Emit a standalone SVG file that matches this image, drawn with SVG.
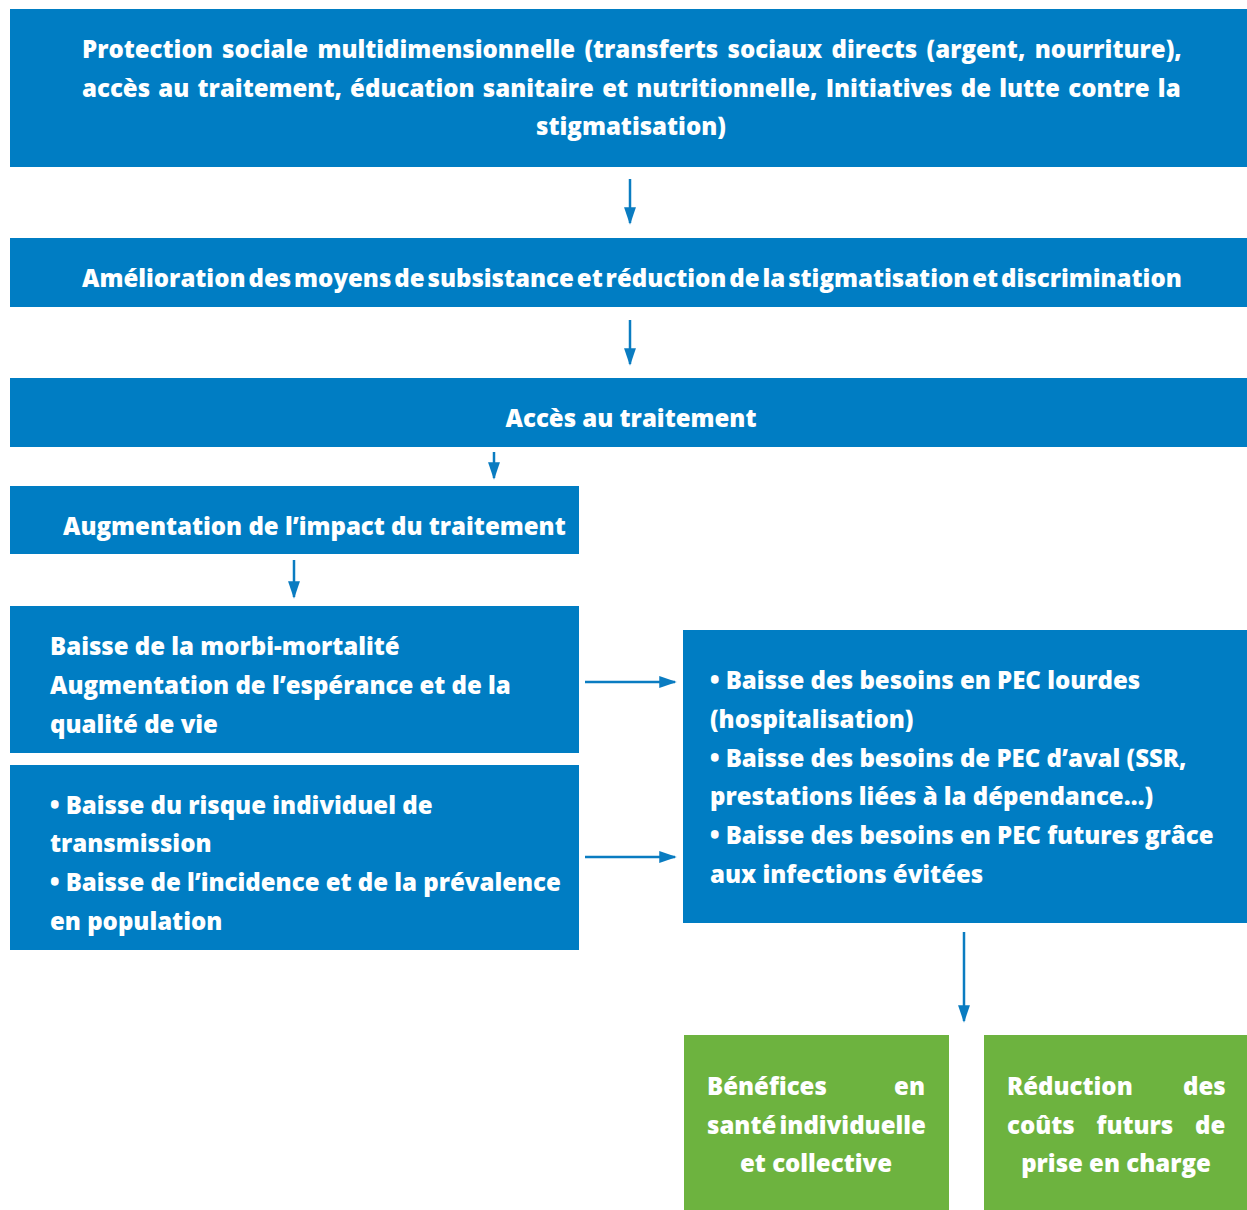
<svg xmlns="http://www.w3.org/2000/svg" width="1247" height="1210" viewBox="0 0 1247 1210">
  <defs>
    <style>
      .box { fill: #007DC3; }
      .green { fill: #6DB33F; }
      .t { font-family: "Open Sans", "Liberation Sans", sans-serif; font-weight: 800; font-size: 24px; fill: #ffffff; }
      .mid { text-anchor: middle; }
      .conn { stroke: #0A7CC1; stroke-width: 2.5; fill: none; marker-end: url(#ah); }
    </style>
    <marker id="ah" viewBox="0 0 10 10" refX="9" refY="5" markerWidth="7" markerHeight="7" markerUnits="strokeWidth" orient="auto">
      <path d="M0,1.6 L10,5 L0,8.4 z" fill="#0A7CC1"/>
    </marker>
  </defs>
  <rect width="1247" height="1210" fill="#ffffff"/>

  <g id="n1">
    <rect class="box" x="10" y="9" width="1237" height="158"/>
    <text class="t" x="82" y="58" word-spacing="3.1">Protection sociale multidimensionnelle (transferts sociaux directs (argent, nourriture),</text>
    <text class="t" x="82" y="97" word-spacing="2">accès au traitement, éducation sanitaire et nutritionnelle, Initiatives de lutte contre la</text>
    <text class="t mid" x="631" y="135">stigmatisation)</text>
  </g>
  <g id="n2">
    <rect class="box" x="10" y="238" width="1237" height="69"/>
    <text class="t" x="82" y="287" word-spacing="-3.3">Amélioration des moyens de subsistance et réduction de la stigmatisation et discrimination</text>
  </g>
  <g id="n3">
    <rect class="box" x="10" y="378" width="1237" height="69"/>
    <text class="t mid" x="631" y="427">Accès au traitement</text>
  </g>
  <g id="n4">
    <rect class="box" x="10" y="486" width="569" height="68"/>
    <text class="t" x="63" y="535">Augmentation de l’impact du traitement</text>
  </g>
  <g id="n5">
    <rect class="box" x="10" y="606" width="569" height="147"/>
    <text class="t" x="50" y="655">Baisse de la morbi-mortalité</text>
    <text class="t" x="50" y="694">Augmentation de l’espérance et de la</text>
    <text class="t" x="50" y="733">qualité de vie</text>
  </g>
  <g id="n6">
    <rect class="box" x="10" y="765" width="569" height="185"/>
    <text class="t" x="50" y="814">• Baisse du risque individuel de</text>
    <text class="t" x="50" y="852">transmission</text>
    <text class="t" x="50" y="891">• Baisse de l’incidence et de la prévalence</text>
    <text class="t" x="50" y="930">en population</text>
  </g>
  <g id="n7">
    <rect class="box" x="683" y="630" width="564" height="293"/>
    <text class="t" x="710" y="689">• Baisse des besoins en PEC lourdes</text>
    <text class="t" x="710" y="728">(hospitalisation)</text>
    <text class="t" x="710" y="767">• Baisse des besoins de PEC d’aval (SSR,</text>
    <text class="t" x="710" y="805">prestations liées à la dépendance…)</text>
    <text class="t" x="710" y="844">• Baisse des besoins en PEC futures grâce</text>
    <text class="t" x="710" y="883">aux infections évitées</text>
  </g>
  <g id="n8">
    <rect class="green" x="684" y="1035" width="265" height="175"/>
    <text class="t" x="707" y="1095" word-spacing="61">Bénéfices en</text>
    <text class="t" x="707" y="1134" word-spacing="-3">santé individuelle</text>
    <text class="t mid" x="816" y="1172">et collective</text>
  </g>
  <g id="n9">
    <rect class="green" x="984" y="1035" width="263" height="175"/>
    <text class="t" x="1007" y="1095" word-spacing="44">Réduction des</text>
    <text class="t" x="1007" y="1134" word-spacing="15.5">coûts futurs de</text>
    <text class="t mid" x="1116" y="1172">prise en charge</text>
  </g>

  <g id="connectors">
    <line class="conn" x1="630" y1="179" x2="630" y2="223"/>
    <line class="conn" x1="630" y1="320" x2="630" y2="364"/>
    <line class="conn" x1="494" y1="452" x2="494" y2="478"/>
    <line class="conn" x1="294" y1="560" x2="294" y2="597"/>
    <line class="conn" x1="585" y1="682" x2="675" y2="682"/>
    <line class="conn" x1="585" y1="857" x2="675" y2="857"/>
    <line class="conn" x1="964" y1="932" x2="964" y2="1021"/>
  </g>
</svg>
